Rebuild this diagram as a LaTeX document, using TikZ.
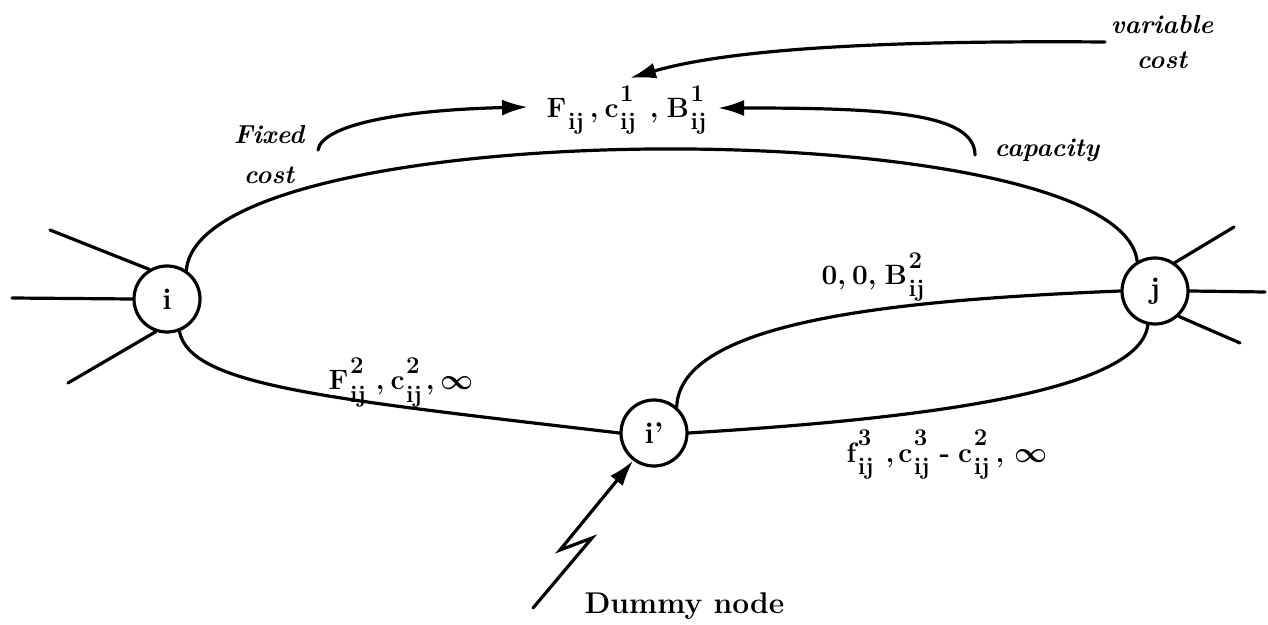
\documentclass[tikz,border=0pt]{standalone}
\usetikzlibrary{arrows.meta}
\newcommand\idxsz{\fontsize{12}{12}\selectfont\bfseries}
\newcommand\symix[3]{#1\kern0.8pt\rlap{\raisebox{8.2pt}{\idxsz #2}}\raisebox{-6pt}{\idxsz #3}}
\begin{document}
\begin{tikzpicture}[x=0.5pt,y=-0.5pt,line width=1.6pt,line cap=round,
  vtx/.style={circle,draw,line width=1.6pt,minimum size=33pt,inner sep=0pt,fill=white,
    font=\fontsize{15}{17}\selectfont\bfseries},
  lbl/.style={inner sep=0pt,font=\fontsize{14}{16}\selectfont\bfseries\boldmath},
  itl/.style={inner sep=0pt,align=center,font=\fontsize{13}{20}\selectfont\bfseries\itshape},
  arr/.style={-{Latex[length=13pt,width=8pt]}}]
\useasboundingbox (0,0) rectangle (1268,625);

% nodes
\node[vtx] (i) at (167,299) {i};
\node[vtx] (j) at (1155,291) {j};
\node[vtx] (ip) at (654,433) {i'};

% edges
\draw (i.56) .. controls (200,110) and (1120,110) .. (j.121);
\draw (i.-69) .. controls (190,385) and (320,398) .. (ip.180);
\draw (ip.0) .. controls (900,420) and (1140,395) .. (j.-102);
\draw (ip.49) .. controls (680,320) and (900,300) .. (j.180);

% spokes
\coordinate (ia) at (50,230);
\coordinate (ib) at (12,298);
\coordinate (ic) at (68,383);
\draw (ia) -- (i.121);
\draw (ib) -- (i.180);
\draw (ic) -- (i.-109);
\coordinate (ja) at (1234,227);
\coordinate (jb) at (1265,292);
\coordinate (jc) at (1240,343);
\draw (ja) -- (j.55);
\draw (jb) -- (j.0);
\draw (jc) -- (j.-47);

% labels
\node[lbl,anchor=base west] (top) at (545,118)
  {\symix{F}{}{ij}\hspace{3pt},\hspace{3pt}\symix{c}{1}{ij}\hspace{7pt},\hspace{4pt}\symix{B}{1}{ij}};
\node[lbl,anchor=base west] (l00) at (820,285)
  {0,\hspace{3pt}0,\hspace{4pt}\symix{B}{2}{ij}};
\node[lbl,anchor=base west] (l2) at (327,390)
  {\symix{F}{2}{ij}\hspace{5pt},\hspace{3pt}\symix{c}{2}{ij}\hspace{2pt},\hspace{3pt}$\infty$};
\node[lbl,anchor=base west] (l3) at (845,462)
  {\symix{f}{3}{ij}\hspace{6pt},\hspace{2pt}\symix{c}{3}{ij}\hspace{5pt}-\hspace{4pt}\symix{c}{2}{ij}\hspace{3pt},\hspace{5pt}$\infty$};
\node[itl] (fixed) at (269,155) {Fixed\\cost};
\node[itl,font=\fontsize{13}{17.5}\selectfont\bfseries\itshape] (var) at (1162,42) {variable\\cost};
\node[itl] (cap) at (1047,150) {capacity};
\node[inner sep=0pt,anchor=base west,font=\fontsize{15}{18}\selectfont\bfseries] (dummy) at (583,613) {Dummy node};

% arrows
\coordinate (fcs) at (318,150);
\coordinate (fct) at (528,107);
\draw[arr] (fcs) .. controls (322,125) and (400,110) .. (fct);
\coordinate (cps) at (975,155);
\coordinate (cpt) at (718,108);
\draw[arr] (cps) .. controls (975,112) and (880,108) .. (cpt);
\coordinate (vcs) at (1105,42);
\coordinate (vct) at (630,78);
\draw[arr] (vcs) .. controls (850,40) and (720,52) .. (vct);

% dummy zigzag
\coordinate (z0) at (533,608);
\coordinate (z1) at (592,538);
\coordinate (z2) at (560,550);
\draw[arr,line join=miter] (z0) -- (z1) -- (z2) -- (ip.-127);
\end{tikzpicture}
\end{document}
